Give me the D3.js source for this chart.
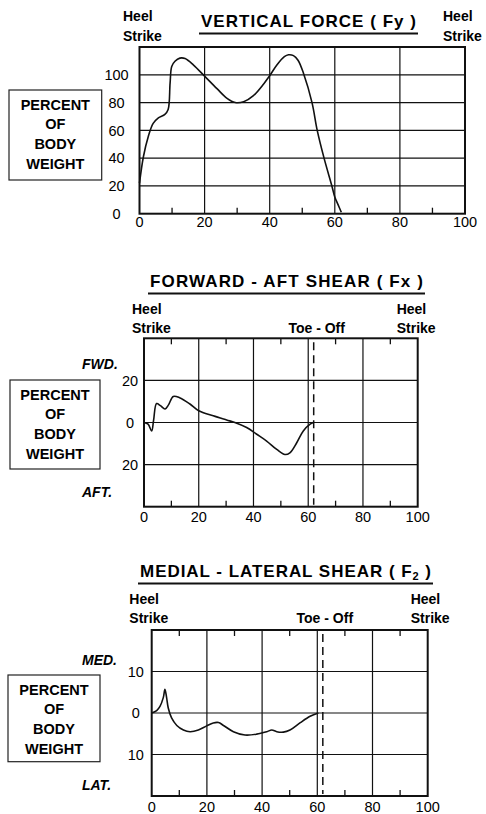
<!DOCTYPE html>
<html>
<head>
<meta charset="utf-8">
<script src="https://cdn.jsdelivr.net/npm/d3@7"></script>
<style>
  body { margin: 0; background: #fff; }
  svg { font-family: "Liberation Sans", Arial, sans-serif; }
</style>
</head>
<body>
<svg id="chart" width="486" height="814"></svg>
<script>
// gait cycle, percent
var xTicks = [0, 20, 40, 60, 80, 100];
var minorTicks = [10, 30, 50, 70, 90];
var toeOff = 62;

// vertical force Fy (% body weight)
var fyX = [0, 1.2, 2.7, 4.2, 5.8, 7.8, 8.8, 9.4, 9.9, 10.9, 12.4, 14, 16.6, 20, 23.8, 26.9, 29.4, 32, 35, 38.2, 39.9, 42.2, 44.5, 45.8, 47.3, 48.7, 50.4, 53, 54.6, 56.7, 59.1, 60, 61, 62];
var fyY = [22, 41, 55.6, 65, 69, 71.5, 75, 94, 106, 109.7, 112, 111.7, 107, 99, 90, 83, 80, 80.6, 85, 93.6, 99, 107, 113, 114.4, 113.8, 110.5, 101, 80, 60, 40, 20, 12, 6.5, 1];
var fyTicks = [0, 20, 40, 60, 80, 100];

// forward-aft shear Fx
var fxX = [0, 1.5, 2.8, 3.5, 4.6, 6.0, 7.7, 9.0, 10.7, 13.0, 16.8, 20.0, 25.3, 30.2, 33.2, 37.5, 41.2, 44.8, 48.5, 51.5, 53.3, 55.8, 58.2, 60.7, 61.9];
var fxY = [0, -0.8, -4, 1, 9, 8, 6.4, 8.5, 12.4, 11.8, 8.8, 5.6, 3.2, 1.2, 0, -2.4, -5.6, -8.8, -12.8, -15.2, -14.4, -9.6, -4, -0.8, 0];
var fxTicks = [-20, 0, 20];

// medial-lateral shear Fz
var fzX = [0, 1.8, 3.0, 4.2, 4.8, 5.4, 6.0, 7.2, 9.1, 11.5, 13.9, 16.9, 19.9, 22.3, 24.2, 26.0, 29.6, 33.8, 38.0, 41.7, 43.5, 45.3, 47.7, 50.1, 53.7, 57.4, 60.4];
var fzY = [0, 0.6, 1.6, 3.7, 5.7, 3.7, 1.2, -1.2, -3.0, -4.1, -4.5, -4.1, -3.1, -2.4, -2.3, -3.0, -4.5, -5.3, -5.1, -4.5, -4.1, -4.5, -4.6, -4.1, -2.4, -0.8, 0];
var fzTicks = [-10, 0, 10];

var svg = d3.select("#chart");

function drawPanel(p) {
    var x = d3.scaleLinear().domain([0, 100]).range([p.left, p.right]);
    var y = d3.scaleLinear().domain(p.yDomain).range([p.bottom, p.top]);
    var g = svg.append("g");

    // title + underline
    var t = g.append("text")
        .attr("x", (p.ulFrom + p.ulTo) / 2)
        .attr("y", p.titleY)
        .attr("text-anchor", "middle")
        .style("font-size", "17px")
        .style("font-weight", "bold")
        .attr("textLength", p.ulTo - p.ulFrom - 4)
        .attr("lengthAdjust", "spacing");
    t.append("tspan").text(p.title);
    if (p.sub) {
        t.append("tspan").attr("dy", 3).style("font-size", "11px").text(p.sub);
        t.append("tspan").attr("dy", -3).text(" )");
    }
    g.append("line")
        .attr("x1", p.ulFrom).attr("x2", p.ulTo)
        .attr("y1", p.titleY + 6.5).attr("y2", p.titleY + 6.5)
        .attr("stroke", "#111").attr("stroke-width", 1.8);

    // heel strike / toe-off labels
    [p.heelL, p.heelR].forEach(function(hx) {
        g.append("text").attr("x", hx).attr("y", p.heelY)
            .style("font-size", "14px").style("font-weight", "bold").text("Heel");
        g.append("text").attr("x", hx).attr("y", p.heelY + 19.5)
            .style("font-size", "14px").style("font-weight", "bold").text("Strike");
    });
    if (p.toeOff) {
        g.append("text").attr("x", x(toeOff) + p.toeDx).attr("y", p.heelY + 19.5)
            .attr("text-anchor", "middle")
            .style("font-size", "14px").style("font-weight", "bold").text("Toe - Off");
    }

    // grid
    g.selectAll(".vg").data(xTicks.slice(1, -1)).enter().append("line")
        .attr("x1", function(d) { return x(d); }).attr("x2", function(d) { return x(d); })
        .attr("y1", p.top).attr("y2", p.bottom)
        .attr("stroke", "#111").attr("stroke-width", 1.2);
    g.selectAll(".hg").data(p.yTicks).enter().append("line")
        .attr("x1", p.left).attr("x2", p.right)
        .attr("y1", function(d) { return y(d); }).attr("y2", function(d) { return y(d); })
        .attr("stroke", "#111").attr("stroke-width", 1.2);

    // minor ticks
    g.selectAll(".mb").data(minorTicks).enter().append("line")
        .attr("x1", function(d) { return x(d); }).attr("x2", function(d) { return x(d); })
        .attr("y1", p.bottom).attr("y2", p.bottom - 6)
        .attr("stroke", "#111").attr("stroke-width", 1.3);
    if (p.topTicks) {
        g.selectAll(".mt").data(minorTicks).enter().append("line")
            .attr("x1", function(d) { return x(d); }).attr("x2", function(d) { return x(d); })
            .attr("y1", p.top).attr("y2", p.top + 6)
            .attr("stroke", "#111").attr("stroke-width", 1.3);
    }

    if (p.toeOff) {
        g.append("line")
            .attr("x1", x(toeOff)).attr("x2", x(toeOff))
            .attr("y1", p.top + 4).attr("y2", p.bottom - 2)
            .attr("stroke", "#111").attr("stroke-width", 1.5)
            .attr("stroke-dasharray", "8,5");
    }

    // frame
    g.append("rect")
        .attr("x", p.left).attr("y", p.top)
        .attr("width", p.right - p.left).attr("height", p.bottom - p.top)
        .attr("fill", "none").attr("stroke", "#111").attr("stroke-width", 2);

    // curve
    var pts = p.xs.map(function(d, i) { return [d, p.ys[i]]; });
    var line = d3.line()
        .x(function(d) { return x(d[0]); })
        .y(function(d) { return y(d[1]); })
        .curve(d3.curveCatmullRom.alpha(0.5));
    g.append("path").datum(pts)
        .attr("d", line)
        .attr("fill", "none").attr("stroke", "#111").attr("stroke-width", 1.6);

    // x tick labels
    g.selectAll(".xl").data(xTicks).enter().append("text")
        .attr("x", function(d) { return x(d); })
        .attr("y", p.xLabelY)
        .attr("text-anchor", "middle")
        .style("font-size", "14.5px")
        .text(function(d) { return d; });

    // y tick labels
    g.selectAll(".yl").data(p.yLabels).enter().append("text")
        .attr("x", p.left - p.yLabelDx)
        .attr("y", function(d) { return y(d); })
        .attr("dy", "0.36em")
        .attr("text-anchor", "middle")
        .style("font-size", "14.5px")
        .text(function(d) { return Math.abs(d); });

    // direction labels
    if (p.dirs) {
        g.append("text").attr("x", 82).attr("y", p.dirs[2])
            .style("font-size", "14px").style("font-weight", "bold").style("font-style", "italic")
            .text(p.dirs[0]);
        g.append("text").attr("x", 82).attr("y", p.dirs[3])
            .style("font-size", "14px").style("font-weight", "bold").style("font-style", "italic")
            .text(p.dirs[1]);
    }

    // unit box
    g.append("rect")
        .attr("x", p.box[0]).attr("y", p.box[1])
        .attr("width", p.box[2]).attr("height", p.box[3])
        .attr("fill", "none").attr("stroke", "#222").attr("stroke-width", 1.2);
    ["PERCENT", "OF", "BODY", "WEIGHT"].forEach(function(s, i) {
        g.append("text")
            .attr("x", p.box[0] + p.box[2] / 2)
            .attr("y", p.box[1] + 19.5 + i * 19.7)
            .attr("text-anchor", "middle")
            .style("font-size", "14.5px").style("font-weight", "bold")
            .text(s);
    });
}

drawPanel({
    title: "VERTICAL FORCE  ( Fy )", titleY: 27, ulFrom: 199, ulTo: 418,
    heelL: 123, heelR: 443, heelY: 21, toeOff: false,
    left: 139.5, right: 465, top: 47, bottom: 213.7, yDomain: [0, 120],
    yTicks: [20, 40, 60, 80, 100], yLabels: fyTicks, yLabelDx: 23,
    xs: fyX, ys: fyY, xLabelY: 227, topTicks: false,
    box: [9, 90, 92.7, 90]
});

drawPanel({
    title: "FORWARD - AFT SHEAR  ( Fx )", titleY: 287, ulFrom: 148, ulTo: 425,
    heelL: 132, heelR: 396.7, heelY: 313.5, toeOff: true, toeDx: 3,
    left: 144, right: 417.7, top: 338.3, bottom: 506.7, yDomain: [-40, 40],
    yTicks: fxTicks, yLabels: fxTicks, yLabelDx: 14,
    xs: fxX, ys: fxY, xLabelY: 521.5, topTicks: true,
    dirs: ["FWD.", "AFT.", 369, 497],
    box: [10, 380, 90, 89]
});

drawPanel({
    title: "MEDIAL - LATERAL SHEAR  ( F", sub: "2", titleY: 577, ulFrom: 138, ulTo: 433,
    heelL: 129.3, heelR: 410.7, heelY: 603.5, toeOff: true, toeDx: 2,
    left: 151.7, right: 427.7, top: 630, bottom: 796, yDomain: [-20, 20],
    yTicks: fzTicks, yLabels: fzTicks, yLabelDx: 16,
    xs: fzX, ys: fzY, xLabelY: 812, topTicks: true,
    dirs: ["MED.", "LAT.", 665, 790],
    box: [8, 675, 92, 86.7]
});
</script>
</body>
</html>
